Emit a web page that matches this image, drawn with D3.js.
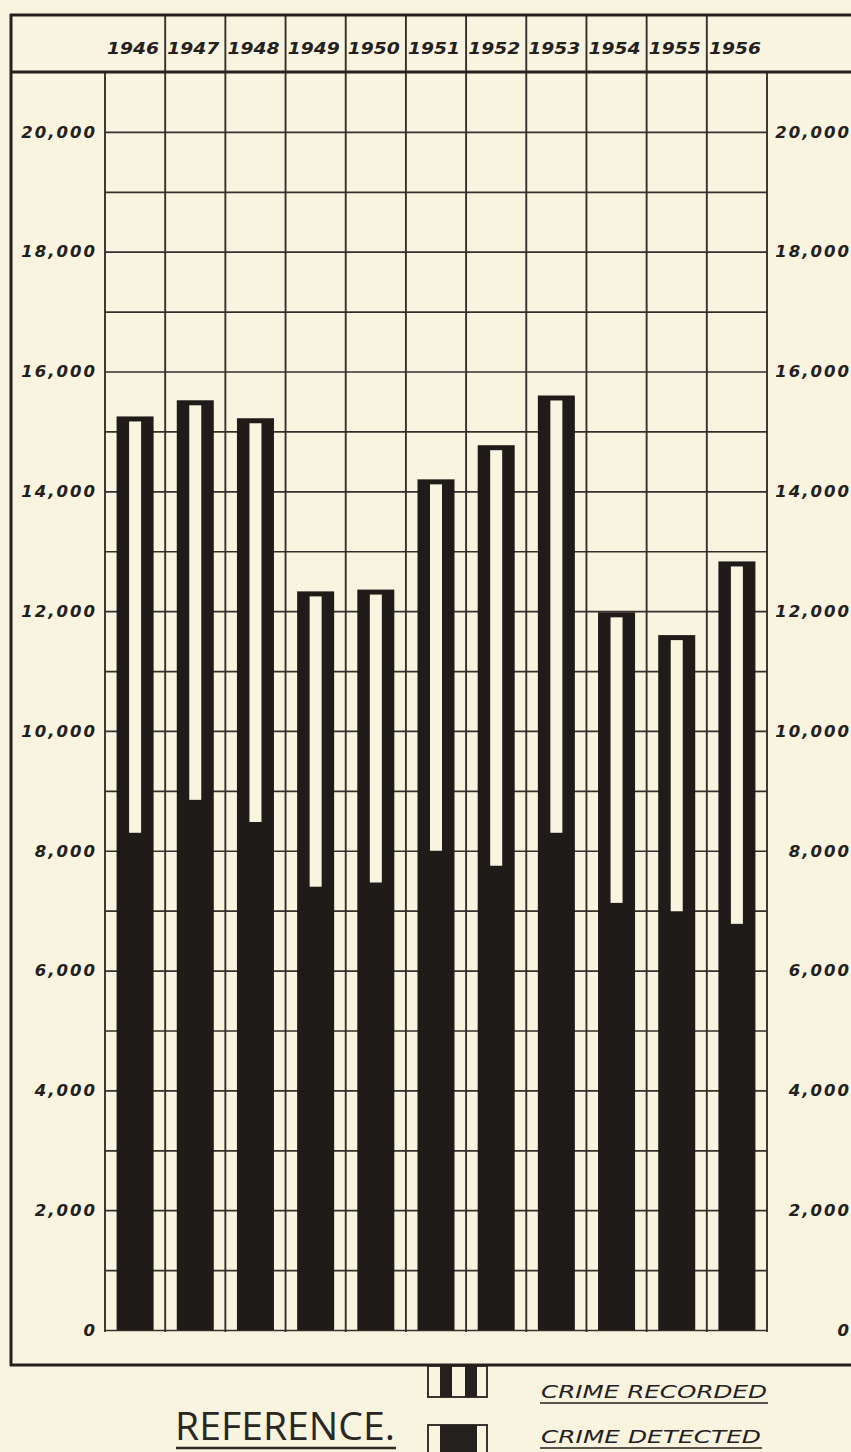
<!DOCTYPE html>
<html>
<head>
<meta charset="utf-8">
<script src="https://cdn.jsdelivr.net/npm/d3@7"></script>
<style>
  body { margin: 0; background: #f8f4e0; }
  svg { display: block; }
  .num { font-family: "DejaVu Sans", sans-serif; font-style: italic; font-weight: bold; fill: #24201d; }
</style>
</head>
<body>
<div id="chart"></div>
<script>
// chart values
var years = ["1946", "1947", "1948", "1949", "1950", "1951", "1952", "1953", "1954", "1955", "1956"];
var recorded = [15250, 15520, 15220, 12330, 12360, 14200, 14770, 15600, 11980, 11600, 12830];
var detected = [8300, 8850, 8480, 7400, 7470, 8000, 7750, 8300, 7130, 6990, 6780];
var yTicks = [0, 2000, 4000, 6000, 8000, 10000, 12000, 14000, 16000, 18000, 20000];
var yTickLabels = ["0", "2,000", "4,000", "6,000", "8,000", "10,000", "12,000", "14,000", "16,000", "18,000", "20,000"];
var legendLabels = ["CRIME RECORDED", "CRIME DETECTED"];

var svgWidth = 851;
var svgHeight = 1452;
var ink = "#24201d";
var paper = "#f8f4e0";

var plot = { left: 105, right: 767, top: 72, bottom: 1330 };

var svg = d3.select("#chart")
  .append("svg")
  .attr("width", svgWidth)
  .attr("height", svgHeight);

svg.append("rect")
  .attr("width", svgWidth)
  .attr("height", svgHeight)
  .attr("fill", paper);

var x = d3.scaleBand()
  .domain(years)
  .range([plot.left, plot.right])
  .padding(0);

var y = d3.scaleLinear()
  .domain([0, 21000])
  .range([plot.bottom, plot.top]);

// horizontal grid every 1000
var grid = svg.append("g")
  .attr("transform", `translate(${plot.left},0)`)
  .call(d3.axisLeft(y)
    .tickValues(d3.range(0, 21000, 1000))
    .tickSize(-(plot.right - plot.left))
    .tickFormat(""));
grid.select(".domain").remove();
grid.selectAll("line")
  .attr("stroke", "#35302b")
  .attr("stroke-width", 1.7);

// column lines
var colEdges = years.map(d => x(d)).concat([plot.right]);
svg.append("g").selectAll("line")
  .data(colEdges)
  .enter()
  .append("line")
  .attr("x1", d => d)
  .attr("x2", d => d)
  .attr("y1", plot.top)
  .attr("y2", plot.bottom + 2)
  .attr("stroke", "#35302b")
  .attr("stroke-width", 1.9);

// header dividers between the years
svg.append("g").selectAll("line")
  .data(years.slice(1))
  .enter()
  .append("line")
  .attr("x1", d => x(d))
  .attr("x2", d => x(d))
  .attr("y1", 15)
  .attr("y2", plot.top)
  .attr("stroke", "#35302b")
  .attr("stroke-width", 1.9);

// frame
svg.append("line").attr("x1", 10).attr("x2", svgWidth).attr("y1", 15).attr("y2", 15)
  .attr("stroke", ink).attr("stroke-width", 3);
svg.append("line").attr("x1", 10).attr("x2", svgWidth).attr("y1", plot.top).attr("y2", plot.top)
  .attr("stroke", ink).attr("stroke-width", 3);
svg.append("line").attr("x1", 11).attr("x2", 11).attr("y1", 14).attr("y2", 1366)
  .attr("stroke", ink).attr("stroke-width", 3);
svg.append("line").attr("x1", 10).attr("x2", svgWidth).attr("y1", 1365).attr("y2", 1365)
  .attr("stroke", ink).attr("stroke-width", 3.2);

// bars
var barW = 37;
var slitW = 12;
var capH = 5;
var rows = years.map((d, i) => ({ year: d, rec: recorded[i], det: detected[i] }));

var bars = svg.append("g").selectAll("g")
  .data(rows)
  .enter()
  .append("g");

bars.append("rect")
  .attr("x", d => x(d.year) + (x.bandwidth() - barW) / 2)
  .attr("y", d => y(d.rec))
  .attr("width", barW)
  .attr("height", d => y(0) - y(d.rec))
  .attr("fill", "#1f1b19");

bars.append("rect")
  .attr("x", d => x(d.year) + (x.bandwidth() - slitW) / 2)
  .attr("y", d => y(d.rec) + capH)
  .attr("width", slitW)
  .attr("height", d => y(d.det) - y(d.rec) - capH)
  .attr("fill", paper);

// year labels in the header
var headerAxis = svg.append("g")
  .attr("transform", "translate(-2,54)")
  .call(d3.axisTop(x).tickSize(0).tickPadding(0));
headerAxis.select(".domain").remove();
headerAxis.selectAll("text")
  .attr("class", "num")
  .attr("textLength", 52)
  .attr("lengthAdjust", "spacingAndGlyphs")
  .style("font-size", "15px");

// value labels, both sides
function yAxis(xPos) {
  var g = svg.append("g")
    .attr("transform", `translate(${xPos},0)`)
    .call(d3.axisLeft(y)
      .tickValues(yTicks)
      .tickFormat((d, i) => yTickLabels[i])
      .tickSize(0)
      .tickPadding(0));
  g.select(".domain").remove();
  g.selectAll("text")
    .attr("class", "num")
    .style("font-size", "16.5px")
    .style("letter-spacing", "2px");
}
yAxis(97);
yAxis(851);

// legend
svg.append("text")
  .attr("x", 175)
  .attr("y", 1440)
  .attr("textLength", 220)
  .attr("lengthAdjust", "spacingAndGlyphs")
  .style("font-family", "'Open Sans', 'DejaVu Sans', sans-serif")
  .style("font-weight", 400)
  .style("font-size", "38px")
  .style("fill", "#2a2622")
  .text("REFERENCE.");
svg.append("line").attr("x1", 176).attr("x2", 396).attr("y1", 1448).attr("y2", 1448)
  .attr("stroke", "#2a2622").attr("stroke-width", 2.5);

// recorded swatch
svg.append("rect").attr("x", 428).attr("y", 1366).attr("width", 59).attr("height", 31)
  .attr("fill", paper).attr("stroke", ink).attr("stroke-width", 1.8);
svg.append("rect").attr("x", 440).attr("y", 1366).attr("width", 12).attr("height", 31).attr("fill", ink);
svg.append("rect").attr("x", 465).attr("y", 1366).attr("width", 12).attr("height", 31).attr("fill", ink);

// detected swatch
svg.append("rect").attr("x", 428).attr("y", 1425).attr("width", 59).attr("height", 40)
  .attr("fill", paper).attr("stroke", ink).attr("stroke-width", 1.8);
svg.append("rect").attr("x", 440).attr("y", 1425).attr("width", 37).attr("height", 40).attr("fill", ink);

var legendY = [1398, 1443];
legendLabels.forEach(function(label, i) {
  svg.append("text")
    .attr("x", 541)
    .attr("y", legendY[i])
    .attr("textLength", i == 0 ? 226 : 220)
    .attr("lengthAdjust", "spacingAndGlyphs")
    .attr("class", "num")
    .style("font-weight", "normal")
    .style("font-size", "17px")
    .text(label);
  svg.append("line")
    .attr("x1", 540).attr("x2", i == 0 ? 768 : 762)
    .attr("y1", legendY[i] + 5).attr("y2", legendY[i] + 5)
    .attr("stroke", ink).attr("stroke-width", 1.6);
});
</script>
</body>
</html>
